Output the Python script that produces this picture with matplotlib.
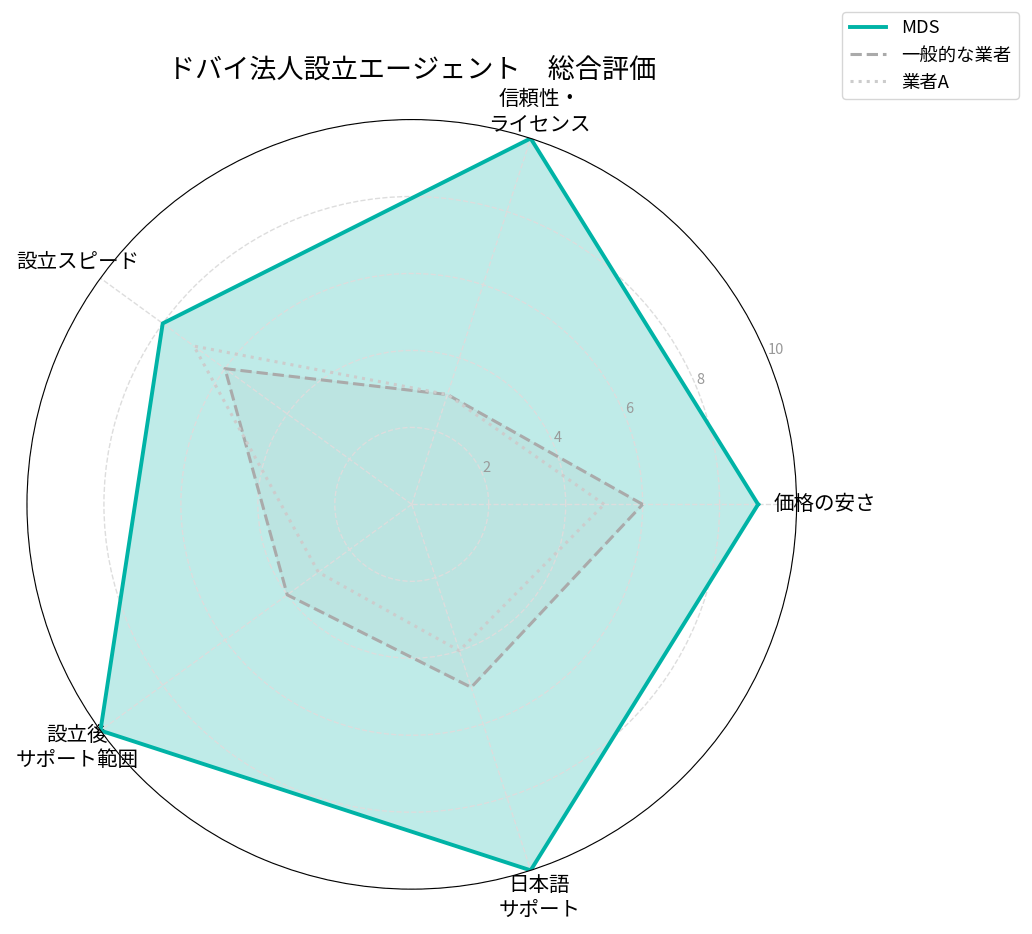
import numpy as np
import matplotlib
matplotlib.use("Agg")
import matplotlib.pyplot as plt

plt.rcParams['font.family'] = ['Noto Sans CJK JP', 'DejaVu Sans']

# 評価項目
categories = ['価格の安さ', '信頼性・\nライセンス', '設立スピード', '設立後\nサポート範囲', '日本語\nサポート']
mds = [9, 10, 8, 10, 10]
general = [6, 3, 6, 4, 5]
company_a = [5, 3, 7, 3, 4]
rticks = [2, 4, 6, 8, 10]

angles = np.linspace(0, 2 * np.pi, len(categories), endpoint=False).tolist()
angles_c = angles + angles[:1]

def close(v):
    return v + v[:1]

fig = plt.figure(figsize=(10.32, 9.34), dpi=100)
ax = fig.add_axes([0.026, 0.048, 0.746, 0.824], polar=True)

ax.plot(angles_c, close(mds), color='#00b3a6', linewidth=2.8, label='MDS')
ax.fill(angles_c, close(mds), color='#00b3a6', alpha=0.25)
ax.plot(angles_c, close(general), color='#aaaaaa', linewidth=2.2, linestyle='--', label='一般的な業者')
ax.fill(angles_c, close(general), color='#aaaaaa', alpha=0.1)
ax.plot(angles_c, close(company_a), color='#cccccc', linewidth=2.2, linestyle=':', label='業者A')

ax.set_ylim(0, 10)
ax.set_yticks(rticks)
ax.set_yticklabels([str(t) for t in rticks], color='#999999', fontsize=10.5)
ax.set_rlabel_position(22.5)
ax.set_xticks(angles)
ax.set_xticklabels(categories, fontsize=14.8)
ax.tick_params(axis='x', pad=10)
ax.grid(color='#dddddd', linestyle='--', linewidth=1)

ax.set_title('ドバイ法人設立エージェント　総合評価', fontsize=19.5, pad=7)
ax.legend(loc='upper right', bbox_to_anchor=(0.987, 0.987), bbox_transform=fig.transFigure,
          borderaxespad=0, fontsize=13.2)

fig.savefig('out.png', dpi=100)
